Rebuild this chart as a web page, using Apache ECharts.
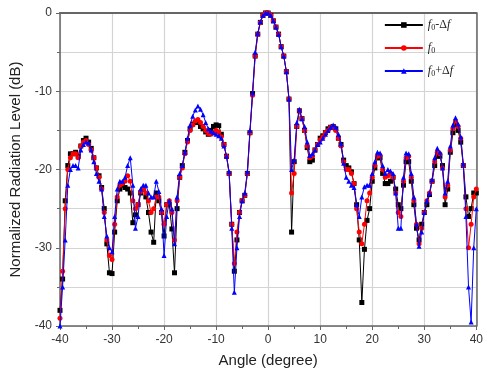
<!DOCTYPE html>
<html>
<head>
<meta charset="utf-8">
<script src="https://cdn.jsdelivr.net/npm/echarts@6/dist/echarts.min.js"></script>
<style>
  html, body { margin: 0; padding: 0; background: #fff; }
  #chart { width: 486px; height: 373px; }
</style>
</head>
<body>
<div id="chart"></div>
<script>
// angle grid (degree), 0.5 step
const angles = [];
for (let a = -40; a <= 40; a += 0.5) angles.push(a);

const seriesNames = ["f0-Δf", "f0", "f0+Δf"];

// f0 - Δf (black)
const lowValues = [
  -38, -34, -24, -19.5, -18, -18, -17.8, -18.3, -17, -16.3, -16, -16.5, -17.3, -18.5, -19.8, -20.8, -22.3, -25, -29.5, -33.2, -33.3,
  -28, -24, -22.5, -22, -22.3, -22.5, -23, -26.8, -25.8, -24.5, -23, -22.5, -23.5, -25.5, -28, -29.3, -23, -24, -25.5, -28.5,
  -24.5, -24.5, -27.6, -33.2, -25, -21, -19.5, -17.8, -16.3, -14.8, -14.2, -14, -14, -14.5, -14.8, -15.2, -15.5, -15, -14.5, -14.3,
  -14.4, -15.5, -16.8, -18.3, -20.5, -27, -33, -29, -25.5, -24, -23.3, -20.5, -15.3, -10.3, -5.5, -2.7, -1.2, -0.3, 0, 0,
  -0.3, -1, -1.8, -2.7, -4.3, -5.5, -7.5, -11, -28, -19, -14.5, -12.5, -13.5, -15, -17.2, -19, -18.8, -17.5, -16.8, -16,
  -15.7, -15.3, -14.8, -14.6, -14.5, -14.8, -16, -16.8, -18.8, -19.5, -19.8, -20.3, -21.8, -24.5, -29, -37, -30.2, -26.5, -25, -21.5,
  -19.8, -18.5, -18.5, -20.5, -21.8, -21.8, -21.5, -21, -22.5, -24.5, -25, -22, -19, -19, -21.5, -24.5, -27.5, -29, -27, -25.5,
  -24.5, -23.2, -21.5, -19.5, -18.3, -18.3, -19.5, -24.5, -22.5, -17.8, -15.3, -14.3, -15, -16.5, -19.5, -23.5, -26, -25, -23, -23
];

// f0 (red)
const midValues = [
  -39, -33, -25, -20, -18.5, -18, -18, -18.5, -17, -16.5, -16.3, -16.8, -17.5, -18.5, -19.8, -21, -22.5, -25.5, -29, -31, -31.5,
  -27, -23.5, -22, -21.8, -21.5, -20.8, -21.5, -24, -25, -24.5, -22.8, -22.5, -23, -24, -25.5, -25, -23.5, -23.5, -25.5, -27,
  -24.5, -24, -25.5, -29, -24, -21, -19.8, -18, -16.5, -15, -14.3, -13.8, -13.6, -14, -14.5, -15, -15.4, -15.5, -15.3, -15,
  -15.2, -15.8, -16.8, -18.3, -20.5, -27, -32, -28, -25.5, -24, -23.3, -20.5, -15.3, -10.5, -5.5, -2.7, -1.2, -0.3, 0, 0,
  -0.3, -1, -1.8, -2.7, -4.3, -5.5, -7.5, -11, -23, -20.5, -14.5, -12.5, -13.5, -15, -17, -18.5, -18.3, -17.5, -16.8, -16.2,
  -15.8, -15.3, -15, -14.6, -14.5, -15, -16, -17, -19, -20, -20, -20.5, -21.8, -25, -28, -29.5, -27, -24, -23, -21,
  -19.5, -18.3, -18.2, -20, -21, -20.8, -20.5, -21, -23, -25.5, -26, -21.5, -18.5, -18.3, -21, -24, -27, -29.5, -27.5, -25.5,
  -24, -23, -21.5, -19, -17.8, -18, -19.8, -23.5, -22, -17.5, -14.8, -13.8, -14.5, -16, -19.5, -25, -30, -27, -23.5, -22.5
];

// f0 + Δf (blue)
const highValues = [
  -40, -35, -29, -22, -20, -19.5, -19.5, -19.8, -17.5, -16.8, -16.5, -16.6, -17.5, -19, -20.5, -21.5, -22.5, -26, -28.5, -30, -30.5,
  -26, -22.5, -21.5, -21.5, -21, -19.5, -18.5, -22, -27.5, -26, -22.5, -22, -22, -23, -23.5, -23.5, -21.5, -22.8, -25, -31,
  -26, -24, -25, -29.5, -23.5, -20.5, -19.5, -17.8, -16, -14.3, -13.2, -12.4, -11.9, -12.3, -13, -14, -14.8, -15.1, -15.3, -15.5,
  -15.7, -16, -17, -18.3, -20.3, -27.5, -35.7, -30, -26, -24, -23, -20.3, -15, -10.2, -5, -2.6, -1.1, -0.3, 0, 0,
  -0.3, -1, -1.8, -2.7, -4.3, -5.5, -7.5, -11, -20, -18.8, -14, -12.3, -13.5, -14.5, -16.5, -18.2, -18, -17.5, -16.8, -16.5,
  -16, -15.5, -15, -14.6, -14.3, -14.6, -15.5, -16.7, -19.2, -21, -21.5, -22, -22.3, -24.5, -26, -23.5, -22.2, -22, -22, -20.5,
  -19, -17.8, -17.9, -19.5, -20.5, -20, -20.2, -20.5, -23, -27.5, -27.5, -21, -17.9, -18, -20.5, -23.5, -27, -29.8, -28, -25.5,
  -24, -23, -21.3, -18.5, -17.3, -17.8, -19.8, -23, -21.5, -17, -14.3, -13.4, -14.2, -15.8, -19.3, -26, -35, -39.5, -30, -25
];

const xTicks = [-40, -30, -20, -10, 0, 10, 20, 30, 40];
const yTicks = [0, -10, -20, -30, -40];

const colors = ["#000000", "#ff0000", "#0000ff"];
const symbols = ["rect", "circle", "triangle"];
const valueSets = [lowValues, midValues, highValues];

const toPairs = (vals) => angles.map((a, i) => [a, vals[i]]);

const chart = echarts.init(document.getElementById("chart"));

const legendText = {
  "f0-Δf": "{i|f}{s|0}{t|-Δ}{i|f}",
  "f0": "{i|f}{s|0}",
  "f0+Δf": "{i|f}{s|0}{t|+Δ}{i|f}",
};

const gridColor = "#d4d4d4";
const axisColor = "#666";

chart.setOption({
  animation: false,
  grid: { left: 60, right: 6, top: 13, bottom: 46 },
  legend: {
    orient: "vertical",
    right: 28,
    top: 14,
    itemWidth: 38,
    itemHeight: 7,
    itemGap: 10,
    data: seriesNames,
    formatter: (name) => legendText[name],
    textStyle: {
      color: "#222",
      rich: {
        i: { fontFamily: "Liberation Serif", fontStyle: "italic", fontSize: 12 },
        s: { fontFamily: "Liberation Serif", fontSize: 8, verticalAlign: "bottom", padding: [6, 0, 0, 0] },
        t: { fontFamily: "Liberation Serif", fontSize: 12 },
      },
    },
  },
  xAxis: [
    {
      type: "value",
      min: -40,
      max: 40,
      interval: 10,
      name: "Angle (degree)",
      nameLocation: "middle",
      nameGap: 27,
      nameTextStyle: { fontFamily: "Liberation Sans", fontSize: 15, color: "#222" },
      axisLine: { onZero: false, lineStyle: { color: axisColor, width: 1.5 } },
      axisTick: { length: 4, lineStyle: { color: axisColor } },
      minorTick: { show: true, splitNumber: 2, length: 3, lineStyle: { color: axisColor } },
      axisLabel: {
        fontFamily: "Liberation Sans",
        fontSize: 12,
        color: "#333",
        margin: 8,
        formatter: (v) => (xTicks.includes(v) ? String(v) : ""),
      },
      splitLine: { show: true, lineStyle: { color: gridColor, width: 1.2 } },
    },
    {
      type: "value",
      position: "top",
      min: -40,
      max: 40,
      interval: 10,
      axisLine: { show: true, onZero: false, lineStyle: { color: axisColor, width: 2 } },
      axisTick: { show: false },
      axisLabel: { show: false },
      splitLine: { show: false },
    },
  ],
  yAxis: [
    {
      type: "value",
      min: -40,
      max: 0,
      interval: 10,
      name: "Normalized Radiation Level (dB)",
      nameLocation: "middle",
      nameGap: 34,
      nameTextStyle: { fontFamily: "Liberation Sans", fontSize: 15, color: "#222" },
      axisLine: { show: true, onZero: false, lineStyle: { color: axisColor, width: 1.5 } },
      axisTick: { show: true, length: 4, lineStyle: { color: axisColor } },
      minorTick: { show: true, splitNumber: 2, length: 3, lineStyle: { color: axisColor } },
      axisLabel: {
        fontFamily: "Liberation Sans",
        fontSize: 12,
        color: "#333",
        margin: 8,
        formatter: (v) => (yTicks.includes(v) ? String(v) : ""),
      },
      splitLine: { show: true, lineStyle: { color: gridColor, width: 1.2 } },
      minorSplitLine: { show: true, lineStyle: { color: gridColor, width: 1.2 } },
    },
    {
      type: "value",
      position: "right",
      min: -40,
      max: 0,
      interval: 10,
      axisLine: { show: true, onZero: false, lineStyle: { color: axisColor, width: 1.5 } },
      axisTick: { show: false },
      axisLabel: { show: false },
      splitLine: { show: false },
    },
  ],
  series: seriesNames.map((name, k) => ({
    name: name,
    type: "line",
    xAxisIndex: 0,
    yAxisIndex: 0,
    data: toPairs(valueSets[k]),
    symbol: symbols[k],
    symbolSize: 5,
    showAllSymbol: true,
    lineStyle: { color: colors[k], width: 1 },
    itemStyle: { color: colors[k] },
    z: 2 + k,
  })),
});
</script>
</body>
</html>
